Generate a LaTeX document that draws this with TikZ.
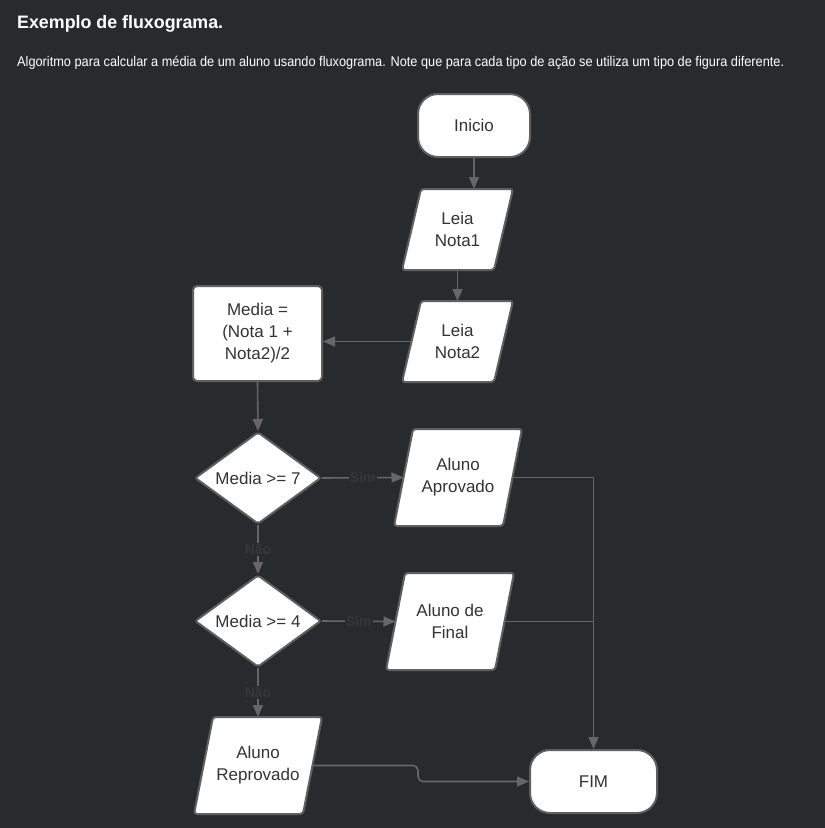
\documentclass[tikz,border=0pt]{standalone}
\usepackage{fontspec}
\setmainfont{Liberation Sans}
\usetikzlibrary{shapes.geometric,arrows.meta,calc}
\definecolor{bg}{RGB}{39,43,46}
\definecolor{edgec}{RGB}{95,95,95}
\definecolor{connc}{RGB}{102,102,102}
\definecolor{txtc}{RGB}{51,51,51}
\definecolor{lblc}{RGB}{52,56,59}
\pgfdeclarelayer{canvas}
\pgfdeclarelayer{shapes}
\pgfsetlayers{canvas,shapes,main}
\newcommand\iodraw[2]{%
  \begin{pgfonlayer}{shapes}
  \draw[ioshape] (#1.south west) -- ($(#1.north west)+(#2,0)$) -- (#1.north east)
     -- ($(#1.south east)-(#2,0)$) -- cycle;
  \end{pgfonlayer}}
\begin{document}
\begin{tikzpicture}[x=1pt,y=-1pt,
  shapebase/.style={draw=edgec, line width=2pt, fill=white, text=txtc,
    font=\fontsize{17}{22}\selectfont, align=center, inner sep=0pt},
  terminal/.style={shapebase, rectangle, rounded corners=20pt,
    minimum width=#1, minimum height=63pt},
  procbox/.style={shapebase, rectangle, rounded corners=4pt,
    minimum width=129pt, minimum height=95pt},
  decision/.style={shapebase, diamond, aspect=1.37, rounded corners=2pt,
    minimum width=126pt, minimum height=92pt},
  iobox/.style 2 args={shapebase, draw=none, fill=none, rectangle,
    minimum width=#1, minimum height=#2},
  ioshape/.style={draw=edgec, line width=2pt, fill=white, rounded corners=3pt},
  conn/.style={draw=connc, line width=1.6pt, -{Triangle[length=12pt,width=10pt]}},
  connline/.style={draw=connc, line width=1.6pt},
  lbl/.style={fill=bg, text=lblc, font=\fontsize{14}{14}\selectfont\bfseries, inner sep=1pt}
]
\begin{pgfonlayer}{canvas}
\fill[bg] (0,0) rectangle (825,828);
\end{pgfonlayer}
\useasboundingbox (0,0) rectangle (825,828);

\node[anchor=base west, inner sep=0pt, text=white] (title) at (17,28)
  {\resizebox{206pt}{\height}{\fontsize{18}{18}\selectfont\bfseries Exemplo de fluxograma.}};
\node[anchor=base west, inner sep=0pt, text=white] (subtitle) at (17,66.5)
  {\resizebox{767pt}{\height}{\fontsize{14}{14}\selectfont Algoritmo para calcular a média de um aluno usando fluxograma. Note que para cada tipo de ação se utiliza um tipo de figura diferente.}};

\node[terminal=112pt] (ini) at (474,125.5) {Inicio};
\node[iobox={109pt}{79pt}] (n1) at (457.5,229.5) {Leia\\Nota1};
\iodraw{n1}{19}
\node[iobox={109pt}{79pt}] (n2) at (457.5,341.5) {Leia\\Nota2};
\iodraw{n2}{19}
\node[procbox] (media) at (257.5,333.5) {Media =\\(Nota 1 +\\Nota2)/2};
\node[decision] (d1) at (258,478) {Media >= 7};
\node[decision] (d2) at (258,621) {Media >= 4};
\node[iobox={126pt}{95pt}] (apr) at (458,477.5) {Aluno\\Aprovado};
\iodraw{apr}{19}
\node[iobox={126pt}{95pt}] (fin) at (450,621.5) {Aluno de\\Final};
\iodraw{fin}{19}
\node[iobox={126pt}{95pt}] (rep) at (258,765.5) {Aluno\\Reprovado};
\iodraw{rep}{19}
\node[terminal=127pt] (fim) at (593.5,781.5) {FIM};

\draw[conn] (ini.south) -- (ini.south |- n1.north);
\draw[conn] (n1.south) -- (n2.north);
\draw[conn] ($(n2.west)+(9.5,0)$) -- (n2.west -| media.east);
\draw[conn] (media.south) -- (d1.north);
\draw[conn] (d1.east) -- node[lbl] (s1) {Sim} ($(apr.west)+(9.5,0)$);
\draw[conn] (d1.south) -- node[lbl] (nao1) {Não} (d2.north);
\draw[conn] (d2.east) -- node[lbl] (s2) {Sim} ($(fin.west)+(9.5,0)$);
\draw[conn] (d2.south) -- node[lbl] (nao2) {Não} (rep.north);
\draw[conn] ($(apr.east)-(9.5,0)$) -| (fim.north);
\draw[connline] ($(fin.east)-(9.5,0)$) -- (fin.east -| fim.north);
\coordinate (jog) at (418,766);
\draw[conn, rounded corners=5pt] ($(rep.east)-(9.5,0)$) -- (rep.east -| jog) |- (fim.west);
\end{tikzpicture}
\end{document}
